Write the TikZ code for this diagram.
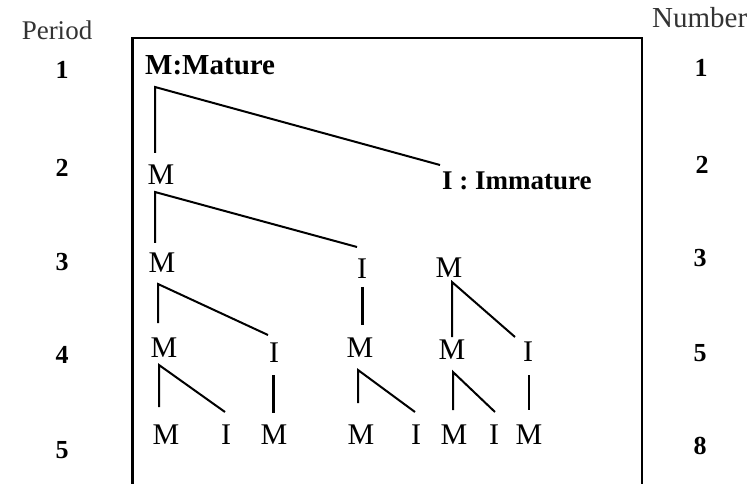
\documentclass[tikz,border=0pt]{standalone}
\usepackage{fontspec}
\setmainfont{Liberation Serif}
\begin{document}
\begin{tikzpicture}[x=1pt,y=1pt,
  lbl/.style={inner sep=0pt, font=\fontsize{30}{32}\selectfont},
  key/.style={inner sep=0pt, anchor=west, font=\fontsize{29}{31}\selectfont\bfseries},
  num/.style={inner sep=0pt, font=\fontsize{26}{28}\selectfont\bfseries},
  hdr/.style={inner sep=0pt, font=\fontsize{27}{29}\selectfont, text=black!80},
  br/.style={line width=2pt},
  thk/.style={line width=3pt},
  frame/.style={line width=2pt}]
\useasboundingbox (0,0) rectangle (748,-484);
% frame (open at bottom)
\draw[frame] (132,-484) -- (132,-38) -- (642,-38) -- (642,-484);
\draw[line width=3pt] (132,-484) -- (132,-38);
% headers and counts
\node[hdr] (hp) at (57,-30) {Period};
\node[hdr, anchor=west, font=\fontsize{29}{31}\selectfont] (hn) at (652,-18) {Number};
\node[num] (p1) at (62,-70) {1};
\node[num] (p2) at (62,-168) {2};
\node[num] (p3) at (62,-262) {3};
\node[num] (p4) at (62,-355) {4};
\node[num] (p5) at (62,-450) {5};
\node[num] (n1) at (701,-68) {1};
\node[num] (n2) at (702,-165) {2};
\node[num] (n3) at (700,-258) {3};
\node[num] (n4) at (700,-353) {5};
\node[num] (n5) at (700,-446) {8};
% tree nodes
\node[key] (m1) at (145,-65) {M:Mature};
\node[lbl] (m2) at (161,-175) {M};
\node[key, font=\fontsize{27}{29}\selectfont\bfseries] (im) at (442,-181) {I : Immature};
\node[lbl] (m3a) at (162,-263) {M};
\node[lbl] (i3) at (362,-269) {I};
\node[lbl] (m3c) at (449,-268) {M};
\node[lbl] (m4a) at (164,-348) {M};
\node[lbl] (i4a) at (274,-353) {I};
\node[lbl] (m4b) at (360,-348) {M};
\node[lbl] (m4c) at (452,-350) {M};
\node[lbl] (i4c) at (528,-352) {I};
\node[lbl] (m5a) at (166,-435) {M};
\node[lbl] (i5a) at (226,-435) {I};
\node[lbl] (m5b) at (274,-435) {M};
\node[lbl] (m5c) at (361,-435) {M};
\node[lbl] (i5b) at (416,-435) {I};
\node[lbl] (m5d) at (454,-435) {M};
\node[lbl] (i5c) at (494,-435) {I};
\node[lbl] (m5e) at (529,-435) {M};
% branches
\draw[br] ([shift={(-6,22)}]m2.center) -- ([shift={(10,-22)}]m1.west) -- ([shift={(-2,16)}]im.west);
\draw[br] ([shift={(-7,20)}]m3a.center) -- ([shift={(-6,-17)}]m2.center) -- ([shift={(-5,22)}]i3.center);
\draw[br] ([shift={(-6,25)}]m4a.center) -- ([shift={(-4,-21)}]m3a.center) -- ([shift={(-6,18)}]i4a.center);
\draw[thk] ([shift={(0,-18)}]i3.center) -- ([shift={(2,23)}]m4b.center);
\draw[br] ([shift={(0,13)}]m4c.center) -- ([shift={(3,-14)}]m3c.center) -- ([shift={(-13,15)}]i4c.center);
\draw[br] ([shift={(-7,28)}]m5a.center) -- ([shift={(-5,-17)}]m4a.center) -- ([shift={(-1,23)}]i5a.center);
\draw[thk] ([shift={(-1,-22)}]i4a.center) -- ([shift={(-1,22)}]m5b.center);
\draw[br] ([shift={(-3,32)}]m5c.center) -- ([shift={(-2,-22)}]m4b.center) -- ([shift={(-1,23)}]i5b.center);
\draw[br] ([shift={(-1,25)}]m5d.center) -- ([shift={(1,-22)}]m4c.center) -- ([shift={(1,23)}]i5c.center);
\draw[br] ([shift={(1,-23)}]i4c.center) -- ([shift={(0,25)}]m5e.center);
\end{tikzpicture}
\end{document}
